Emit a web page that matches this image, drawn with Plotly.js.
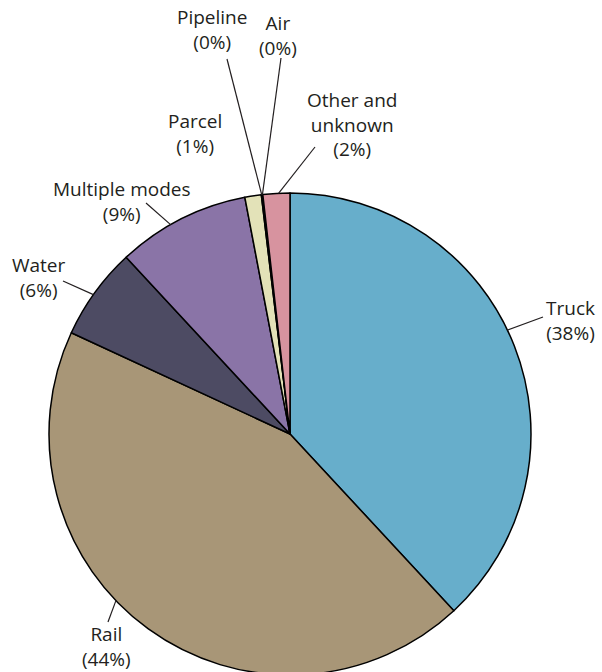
<!DOCTYPE html>
<html>
<head>
<meta charset="utf-8">
<script src="https://cdn.plot.ly/plotly-3.0.1.min.js"></script>
<style>
  html, body { margin: 0; padding: 0; overflow: hidden; background: #fff; }
  #chart { width: 602px; height: 680px; }
</style>
</head>
<body>
<div id="chart"></div>
<script>
// Freight share by mode (percent of total)
const modes = ["Truck", "Rail", "Water", "Multiple modes", "Parcel", "Pipeline", "Air", "Other and unknown"];
const shares = [38.1, 43.8, 6.2, 8.9, 1.1, 0.05, 0.05, 1.8];
const sliceColors = ["#67aecb", "#a89677", "#4d4b63", "#8a74a7", "#e3e2b8", "#c9c9a0", "#d9a0aa", "#d7939f"];
const labelLines = ["Truck", "Rail", "Water", "Multiple modes", "Parcel", "Pipeline", "Air", "Other and<br>unknown"];

// Layout geometry (pixels)
const W = 602, H = 680;
const M = { l: 49, r: 71, t: 193, b: 5 };
const plotW = W - M.l - M.r, plotH = H - M.t - M.b;

// Label placement: text centre, leader end point, and where along the slice the leader touches
const labelPos = [
  { tx: 570, ty: 320, lx: 543, ly: 317, t: 0.47 },
  { tx: 106, ty: 646, lx: 108, ly: 622, t: 0.565 },
  { tx: 39,  ty: 277, lx: 63,  ly: 281, t: 0.47 },
  { tx: 122, ty: 201, lx: 146, ly: 203, t: 0.41 },
  { tx: 195, ty: 133, lx: null, ly: null, t: 0.5 },
  { tx: 212, ty: 30,  lx: 227, ly: 59, t: 0.5 },
  { tx: 278, ty: 35,  lx: 281, ly: 58, t: 0.5 },
  { tx: 352, ty: 124, lx: 315, ly: 147, t: 0.58 }
];

const px2x = px => (px - M.l) / plotW;
const py2y = py => 1 - (py - M.t) / plotH;

const total = shares.reduce((a, b) => a + b, 0);
const annotations = [];
const shapes = [];
let acc = 0;
shares.forEach((v, i) => {
  const a0 = acc / total * 360;
  acc += v;
  const a1 = acc / total * 360;
  const p = labelPos[i];
  const pct = Math.round(v / total * 100);
  annotations.push({
    xref: "paper", yref: "paper",
    x: px2x(p.tx), y: py2y(p.ty),
    xanchor: "center", yanchor: "middle",
    text: labelLines[i] + "<br>(" + pct + "%)",
    showarrow: false, align: "center",
    font: { family: "Open Sans, sans-serif", size: 19, color: "#231f20" }
  });
  if (p.lx !== null) {
    const th = (a0 + p.t * (a1 - a0)) * Math.PI / 180;
    shapes.push({
      type: "line", xref: "paper", yref: "paper",
      x0: 0.5 + 0.5 * Math.sin(th), y0: 0.5 + 0.5 * Math.cos(th),
      x1: px2x(p.lx), y1: py2y(p.ly),
      line: { color: "#231f20", width: 1.2 }
    });
  }
});

const data = [{
  type: "pie",
  labels: modes,
  values: shares,
  sort: false,
  direction: "clockwise",
  rotation: 0,
  textinfo: "none",
  hoverinfo: "label+percent",
  marker: { colors: sliceColors, line: { color: "#000", width: 1.5 } },
  showlegend: false
}];

const layout = {
  width: W, height: H,
  margin: M,
  paper_bgcolor: "#fff",
  showlegend: false,
  annotations: annotations,
  shapes: shapes
};

Plotly.newPlot("chart", data, layout, { displayModeBar: false, staticPlot: true });
</script>
</body>
</html>
